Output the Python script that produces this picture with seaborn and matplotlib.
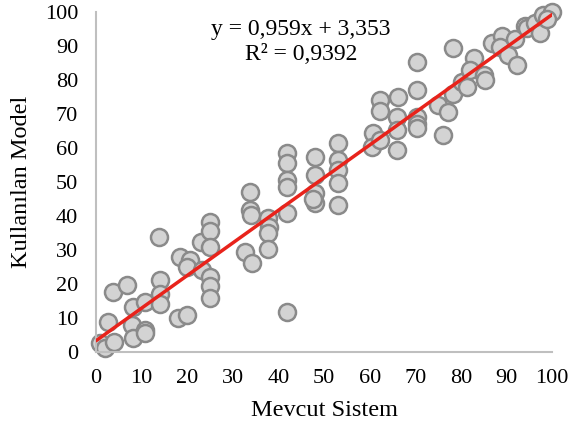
import numpy as np
import pandas as pd
import matplotlib
matplotlib.use('Agg')
import matplotlib.pyplot as plt
import seaborn as sns

mevcut = [0.9, 2.0, 2.6, 4.0, 3.7, 6.8, 7.9, 8.0, 8.0, 10.7, 10.7, 10.7,
          13.8, 14.0, 14.0, 14.0, 18.0, 20.0, 18.4, 20.6, 20.0, 23.0, 23.2,
          25.0, 25.0, 25.0, 25.0, 25.0, 25.0,
          33.8, 33.8, 34.0, 32.7, 34.2,
          37.7, 38.0, 37.7, 37.7,
          41.9, 41.9, 41.9, 41.9, 41.9, 41.9,
          48.0, 48.0, 48.0, 48.0, 47.6,
          53.0, 53.0, 53.0, 53.0, 53.0,
          60.7, 60.5, 62.3, 62.3, 62.3,
          66.2, 66.0, 66.0, 66.0,
          70.4, 70.4, 70.4, 70.4, 70.4,
          75.0, 77.2, 76.0,
          78.3, 78.3, 80.3, 81.4, 83.0, 82.0, 85.0, 85.3,
          86.8, 89.0, 88.6, 90.4, 92.3, 91.9,
          94.0, 94.5, 96.3, 97.4, 98.0, 100.0, 99.0]
kullanilan = [2.6, 1.2, 8.8, 3.0, 17.6, 19.7, 8.0, 4.0, 13.2, 14.7, 6.5, 5.6,
              33.8, 21.2, 17.0, 14.0, 10.0, 11.0, 28.0, 27.0, 25.0, 32.4, 24.0,
              38.2, 35.5, 31.0, 22.0, 19.5, 16.0,
              47.0, 41.8, 40.3, 29.4, 26.2,
              39.4, 36.8, 35.0, 30.3,
              58.5, 55.6, 50.6, 48.5, 41.0, 11.8,
              57.4, 52.0, 46.8, 43.8, 45.0,
              61.5, 56.5, 53.5, 49.7, 43.2,
              64.4, 60.3, 62.3, 74.0, 71.0,
              75.0, 69.0, 65.3, 59.4,
              85.3, 77.0, 69.0, 67.0, 66.0,
              72.6, 70.6, 63.8,
              89.4, 76.0, 79.4, 78.0, 86.5, 83.0, 81.5, 80.0,
              91.0, 93.0, 89.7, 87.4, 84.4, 92.0,
              96.0, 95.3, 96.8, 93.8, 99.0, 100.0, 98.0]

egim = 0.959
sabit = 3.353
r2 = 0.9392

df = pd.DataFrame({'Mevcut': mevcut, 'Kullanilan': kullanilan})
trend = pd.DataFrame({'x': [0, 100]})
trend['y'] = egim * trend['x'] + sabit

sns.set_style('white')
plt.rcParams['font.family'] = ['Liberation Serif', 'DejaVu Serif']
plt.rcParams['text.color'] = 'black'
plt.rcParams['xtick.color'] = 'black'
plt.rcParams['ytick.color'] = 'black'
plt.rcParams['axes.labelcolor'] = 'black'

fig = plt.figure(figsize=(5.72, 4.32), dpi=100)
ax = fig.add_axes([0.168, 0.185, 0.797, 0.787])

sns.scatterplot(data=df, x='Mevcut', y='Kullanilan', ax=ax, s=150,
                color='#d3d3d3', edgecolor='#8a8a8a', linewidth=1.8, zorder=2,
                clip_on=False)
sns.lineplot(data=trend, x='x', y='y', ax=ax, color='#e8231b', linewidth=2.5, zorder=3)

ax.set_xlim(0, 100)
ax.set_ylim(0, 100)
ax.set_xticks(range(0, 101, 10))
ax.set_yticks(range(0, 101, 10))
ax.tick_params(labelsize=16, length=0)
ax.tick_params(axis='x', pad=12)
ax.tick_params(axis='y', pad=13)
for s in ['top', 'right']:
    ax.spines[s].set_visible(False)
for s in ['left', 'bottom']:
    ax.spines[s].set_color('#bfbfbf')
    ax.spines[s].set_linewidth(1.5)
ax.set_xlabel('Mevcut Sistem', fontsize=17.5, labelpad=9)
ax.set_ylabel('Kullanılan Model', fontsize=17.5, labelpad=9)

ax.text(45, 95, 'y = 0,959x + 3,353', ha='center', va='center', fontsize=17)
ax.text(45, 87.6, 'R² = 0,9392', ha='center', va='center', fontsize=17)

plt.savefig('out.png', dpi=100)
